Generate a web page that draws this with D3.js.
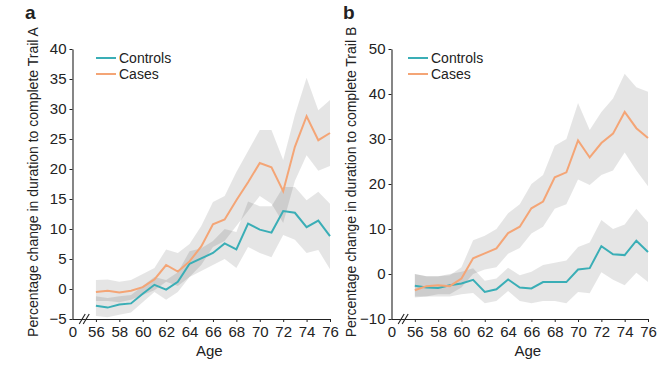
<!DOCTYPE html>
<html><head><meta charset="utf-8">
<script src="https://cdn.jsdelivr.net/npm/d3@7"></script>
<style>body{margin:0;background:#fff;} text{font-family:"Liberation Sans",Arial,sans-serif;fill:#222;}</style>
</head><body><svg id="c" width="666" height="365"></svg>
<script>
const ages = d3.range(56, 77);
// Panel A (Trail A)
const aControls = [-2.8,-3.1,-2.6,-2.4,-0.8,0.7,-0.1,1.2,4.2,5.1,6.0,7.6,6.6,10.9,9.9,9.4,13.0,12.7,10.3,11.4,8.8];
const aControlsHi = [-1.2,-1.5,-1.2,-1.0,0.5,2.0,1.5,2.8,6.3,6.8,8.0,10.0,9.5,14.6,13.8,13.8,17.0,17.0,14.8,16.2,14.2];
const aControlsLo = [-4.5,-4.7,-4.3,-3.9,-2.2,-0.5,-1.8,-0.5,2.0,3.0,4.0,5.0,3.5,7.0,6.0,5.3,9.0,8.2,6.0,6.5,3.3];
const aCases = [-0.5,-0.3,-0.6,-0.3,0.3,1.6,4.0,2.9,4.6,7.1,10.8,11.6,14.8,17.8,21.0,20.3,16.3,23.7,28.8,24.8,26.0];
const aCasesHi = [1.5,1.6,1.2,1.5,2.5,3.5,6.6,6.0,7.5,10.5,14.5,15.5,19.5,23.0,26.5,26.5,21.5,29.0,35.2,29.8,31.5];
const aCasesLo = [-2.0,-2.0,-2.2,-1.8,-1.0,-0.2,1.2,0.5,2.0,4.0,7.0,8.0,10.5,13.0,15.5,14.2,11.0,18.0,22.3,19.7,20.5];
// Panel B (Trail B)
const bControls = [-2.6,-3.0,-3.1,-2.5,-2.1,-1.3,-4.0,-3.4,-1.2,-3.0,-3.2,-1.8,-1.8,-1.8,1.0,1.3,6.2,4.4,4.2,7.4,4.9];
const bControlsHi = [0.0,-0.5,-0.5,0.0,0.5,1.3,-1.5,-1.0,1.4,-0.3,0.5,2.0,2.5,3.0,6.0,7.0,12.0,10.0,11.0,14.5,11.5];
const bControlsLo = [-5.2,-5.0,-5.0,-5.0,-4.5,-4.2,-6.5,-6.0,-3.8,-6.0,-6.5,-6.0,-6.0,-6.5,-4.0,-4.3,0.4,-1.3,-2.5,0.3,-1.8];
const bCases = [-3.6,-2.7,-2.5,-2.7,-1.0,3.5,4.6,5.7,9.1,10.5,14.6,16.1,21.5,22.6,29.7,25.9,29.1,31.2,36.0,32.4,30.2];
const bCasesHi = [0.0,-0.5,-0.5,-0.3,1.5,7.5,8.5,10.0,13.5,15.5,20.0,22.0,28.5,30.0,38.0,32.0,36.0,39.0,44.5,41.5,40.5];
const bCasesLo = [-5.0,-5.0,-4.5,-4.5,-3.0,0.0,1.0,1.5,4.5,5.8,9.0,10.5,14.5,15.5,21.0,19.8,22.0,23.0,27.0,23.0,19.5];

const xTicks = [54,56,58,60,62,64,66,68,70,72,74,76];
const xTickLabels = ["0","56","58","60","62","64","66","68","70","72","74","76"];
const aYTicks = [-5,0,5,10,15,20,25,30,35,40];
const bYTicks = [-10,0,10,20,30,40,50];
const seriesNames = ["Controls","Cases"];
const colors = {Controls:"#3aaeb6", Cases:"#f4a576"};

const svg = d3.select("#c");

function panel(cfg){
  const g = svg.append("g");
  const x = d3.scaleLinear().domain([54,76]).range([cfg.x0, cfg.x1]);
  const y = d3.scaleLinear().domain(cfg.yDomain).range([319, 49]);
  const area = d3.area().x((d,i)=>x(ages[i])).y0(d=>y(d[0])).y1(d=>y(d[1]));
  const line = d3.line().x((d,i)=>x(ages[i])).y(d=>y(d));
  [[cfg.cLo,cfg.cHi],[cfg.kLo,cfg.kHi]].forEach(([lo,hi])=>{
    g.append("path").datum(lo.map((v,i)=>[v,hi[i]])).attr("d",area)
      .attr("fill","#000").attr("fill-opacity",0.1);
  });
  g.append("path").datum(cfg.c).attr("d",line).attr("fill","none").attr("stroke",colors.Controls).attr("stroke-width",2);
  g.append("path").datum(cfg.k).attr("d",line).attr("fill","none").attr("stroke",colors.Cases).attr("stroke-width",2);
  // axes
  const ya = g.append("g").attr("transform",`translate(${cfg.x0},0)`)
    .call(d3.axisLeft(y).tickValues(cfg.yTicks).tickSize(3).tickPadding(3).tickFormat(d=>d<0?"\u2212"+Math.abs(d):d));
  const xa = g.append("g").attr("transform",`translate(0,319)`)
    .call(d3.axisBottom(x).tickValues(xTicks).tickSize(3).tickPadding(4).tickFormat((d,i)=>xTickLabels[i]));
  [ya,xa].forEach(a=>{
    a.select(".domain").attr("stroke","#222").attr("stroke-width",1.1);
    a.selectAll(".tick line").attr("stroke","#222");
    a.selectAll("text").style("font-size","15px").attr("fill","#222");
  });
  ya.select(".domain").attr("d",`M0.5,319.5V49.5`);
  xa.select(".domain").attr("d",`M${cfg.x0},0.5H${cfg.x1}`);
  xa.selectAll(".tick").filter(d=>d===54).select("line").remove();
  // break mark
  const bx = (x(54)+x(56))/2;
  [-2,2].forEach(o=>{
    g.append("line").attr("x1",bx+o-3).attr("y1",324).attr("x2",bx+o+3).attr("y2",314)
      .attr("stroke","#222").attr("stroke-width",1.1);
  });
  // labels
  g.append("text").attr("x",(x(54)+x(76))/2+8).attr("y",356).attr("text-anchor","middle")
    .style("font-size","15px").text("Age");
  g.append("text").attr("transform",`translate(${cfg.yLabX},182) rotate(-90)`).attr("text-anchor","middle")
    .style("font-size","14px").text(cfg.yLabel);
  g.append("text").attr("x",cfg.letterX).attr("y",19).style("font-size","19px").style("font-weight","bold")
    .attr("fill","#111").text(cfg.letter);
  // legend
  seriesNames.forEach((n,i)=>{
    const ly = 58 + i*16;
    g.append("line").attr("x1",cfg.legX).attr("x2",cfg.legX+20).attr("y1",ly).attr("y2",ly)
      .attr("stroke",colors[n]).attr("stroke-width",2);
    g.append("text").attr("x",cfg.legX+23).attr("y",ly+5).style("font-size","14px").text(n);
  });
}

panel({x0:72.5,x1:330,yDomain:[-5,40],yTicks:aYTicks,c:aControls,cHi:aControlsHi,cLo:aControlsLo,
  k:aCases,kHi:aCasesHi,kLo:aCasesLo,yLabel:"Percentage change in duration to complete Trail A",
  yLabX:38,letter:"a",letterX:25,legX:96});
panel({x0:391.5,x1:648,yDomain:[-10,50],yTicks:bYTicks,c:bControls,cHi:bControlsHi,cLo:bControlsLo,
  k:bCases,kHi:bCasesHi,kLo:bCasesLo,yLabel:"Percentage change in duration to complete Trail B",
  yLabX:356,letter:"b",letterX:343,legX:408});
</script></body></html>
